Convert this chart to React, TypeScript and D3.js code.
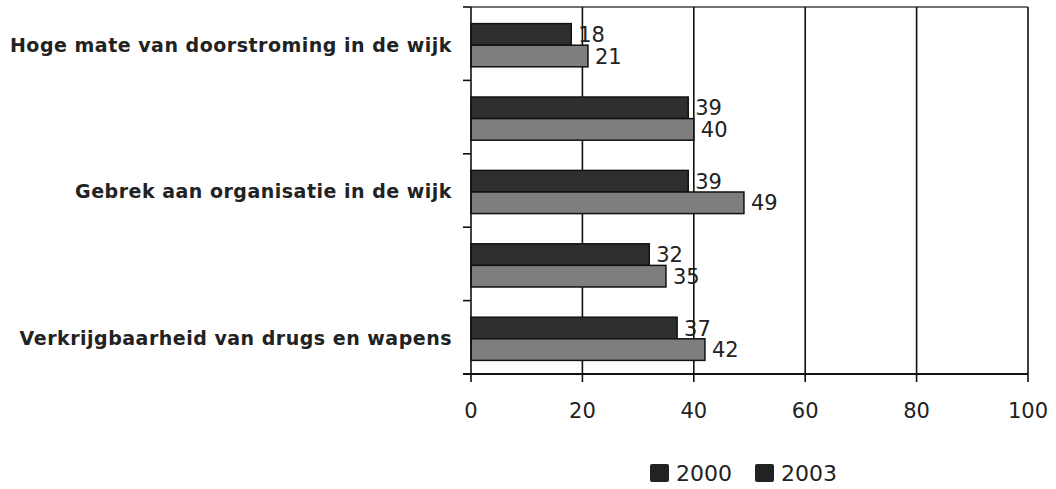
import React from "react";
import * as d3 from "d3";

const categories = [
  "Hoge mate van doorstroming in de wijk",
  "",
  "Gebrek aan organisatie in de wijk",
  "",
  "Verkrijgbaarheid van drugs en wapens",
];
const seriesNames = ["2000", "2003"];
const values2000 = [18, 39, 39, 32, 37];
const values2003 = [21, 40, 49, 35, 42];
const xTicks = [0, 20, 40, 60, 80, 100];

const W = 1056;
const H = 489;
const left = 471;
const right = 1028;
const top = 7;
const bottom = 374;
const FONT = "'DejaVu Sans', Verdana, sans-serif";
const colors = ["#2f2f2f", "#7e7e7e"];

export default function App() {
  const x = d3.scaleLinear().domain([0, 100]).range([left, right]);
  const idx = categories.map((_, i) => String(i));
  const y = d3.scaleBand().domain(idx).range([top, bottom]).paddingInner(0).paddingOuter(0);
  const inner = d3
    .scaleBand()
    .domain(seriesNames)
    .range([0, y.bandwidth()])
    .paddingOuter(0.7)
    .paddingInner(0);
  const series = [values2000, values2003];
  const boundaries = idx.map((k) => y(k)!).concat([bottom]);

  return (
    <svg
      width={W}
      height={H}
      style={{ position: "absolute", left: 0, top: 0, background: "#fff" }}
      fontFamily={FONT}
    >
      {/* top border */}
      <line x1={left} x2={right} y1={top} y2={top} stroke="#444" strokeWidth={1.5} />
      {/* vertical gridlines */}
      {xTicks.slice(1).map((t) => (
        <line key={"g" + t} x1={x(t)} x2={x(t)} y1={top} y2={bottom} stroke="#111" strokeWidth={1.6} />
      ))}
      {/* bars */}
      {idx.map((k, i) => (
        <g key={"c" + k} transform="translate(0,1.5)">
          {series.map((vals, s) => {
            const yy = y(k)! + inner(seriesNames[s])!;
            const h = inner.bandwidth();
            return (
              <g key={"b" + s}>
                <rect
                  x={x(0)}
                  y={yy}
                  width={x(vals[i]) - x(0)}
                  height={h}
                  fill={colors[s]}
                  stroke="#111"
                  strokeWidth={1.5}
                />
                <text
                  x={x(vals[i]) + 7}
                  y={yy + h / 2}
                  dy="0.36em"
                  fontSize={21}
                  fill="#222"
                >
                  {vals[i]}
                </text>
              </g>
            );
          })}
        </g>
      ))}
      {/* left axis */}
      <line x1={left} x2={left} y1={top} y2={bottom} stroke="#111" strokeWidth={1.6} />
      {boundaries.map((b, i) => (
        <line key={"lt" + i} x1={left - 8} x2={left} y1={b} y2={b} stroke="#111" strokeWidth={1.6} />
      ))}
      {/* bottom axis */}
      <line x1={left - 8} x2={right} y1={bottom} y2={bottom} stroke="#111" strokeWidth={1.8} />
      {xTicks.map((t) => (
        <g key={"xt" + t}>
          <line x1={x(t)} x2={x(t)} y1={bottom} y2={bottom + 8} stroke="#111" strokeWidth={1.6} />
          <text x={x(t)} y={418} textAnchor="middle" fontSize={21} fill="#222">
            {t}
          </text>
        </g>
      ))}
      {/* category labels */}
      {idx.map((k, i) =>
        categories[i] ? (
          <text
            key={"cl" + k}
            x={452}
            y={y(k)! + y.bandwidth() / 2 + 1}
            dy="0.36em"
            textAnchor="end"
            fontSize={19}
            fontWeight="bold"
            letterSpacing={0.5}
            fill="#222"
          >
            {categories[i]}
          </text>
        ) : null
      )}
      {/* legend */}
      {seriesNames.map((n, s) => (
        <g key={"lg" + n} transform={`translate(${650 + s * 105},464)`}>
          <rect x={0} y={0} width={19} height={18} rx={2} fill="#222" />
          <text x={26} y={17} fontSize={22} fill="#222">
            {n}
          </text>
        </g>
      ))}
    </svg>
  );
}
